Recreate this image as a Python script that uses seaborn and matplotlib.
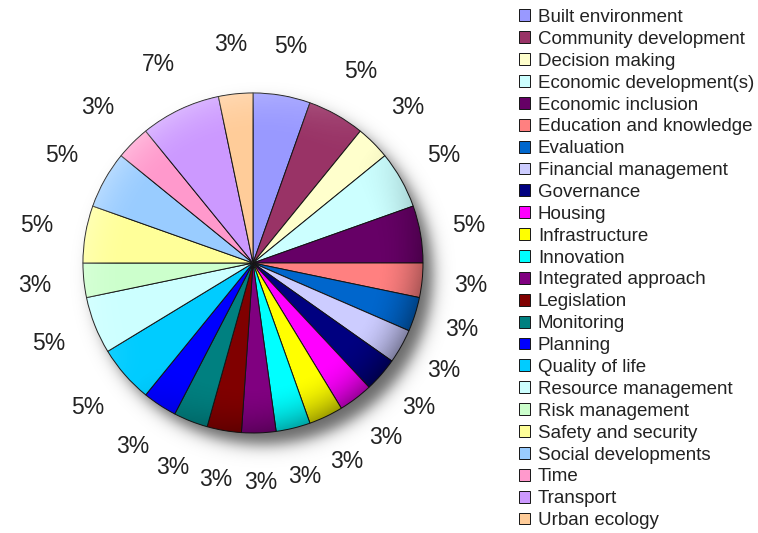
import numpy as np
import matplotlib
matplotlib.use("Agg")
import matplotlib.pyplot as plt
import seaborn as sns
from matplotlib.patches import Circle

# Themes and their share of mentions (percent), clockwise from 12 o'clock
categories = [
    "Built environment", "Community development", "Decision making",
    "Economic development(s)", "Economic inclusion", "Education and knowledge",
    "Evaluation", "Financial management", "Governance", "Housing",
    "Infrastructure", "Innovation", "Integrated approach", "Legislation",
    "Monitoring", "Planning", "Quality of life", "Resource management",
    "Risk management", "Safety and security", "Social developments", "Time",
    "Transport", "Urban ecology",
]
shares = [5, 5, 3, 5, 5, 3, 3, 3, 3, 3, 3, 3, 3, 3, 3, 3, 5, 5, 3, 5, 5, 3, 7, 3]
wedge_colors = [
    "#9999FF", "#993366", "#FFFFCC", "#CCFFFF", "#660066", "#FF8080",
    "#0066CC", "#CCCCFF", "#000080", "#FF00FF", "#FFFF00", "#00FFFF",
    "#800080", "#800000", "#008080", "#0000FF", "#00CCFF", "#CCFFFF",
    "#CCFFCC", "#FFFF99", "#99CCFF", "#FF99CC", "#CC99FF", "#FFCC99",
]

sns.set_theme(style="white")
plt.rcParams["font.family"] = ["Liberation Sans", "DejaVu Sans"]
palette = sns.color_palette(wedge_colors)

W, H = 758, 533
fig = plt.figure(figsize=(W / 100, H / 100), dpi=100)
fig.patch.set_facecolor("white")

# square axes holding the pie, radius 1 in data units
R_px, cx, cy, span = 170, 253, 263, 1.5
ax = fig.add_axes([(cx - span * R_px) / W, (H - cy - span * R_px) / H,
                   2 * span * R_px / W, 2 * span * R_px / H])

wedges, texts = ax.pie(
    shares,
    colors=palette,
    startangle=90,
    counterclock=False,
    labels=[f"{v}%" for v in shares],
    labeldistance=1.29,
    wedgeprops=dict(edgecolor="#151515", linewidth=0.7),
    textprops=dict(fontsize=16.5, color="#222222"),
)
for t in texts:
    t.set_ha("center")
    t.set_va("center")

# soft drop shadow below and to the right of the pie
n = 500
g = np.linspace(-span, span, n)
X, Y = np.meshgrid(g, g[::-1])
d_sh = np.hypot(X - 0.06, Y + 0.07)
a_sh = 0.6 * 0.5 * (1 - np.tanh((d_sh - 1.0) / 0.055))
shadow = np.zeros((n, n, 4))
shadow[..., 3] = a_sh
ax.imshow(shadow, extent=(-span, span, -span, span), zorder=0,
          interpolation="bilinear")

# rim shading: light toward upper left, dark toward lower right
r = np.hypot(X, Y) + 1e-9
rim = np.clip((r - 0.72) / 0.28, 0, 1) ** 2
dirv = (-X + Y) / (np.sqrt(2) * r)
shade = np.zeros((n, n, 4))
light = dirv > 0
shade[light, :3] = 1.0
shade[..., 3] = np.where(light, 0.3, 0.4) * rim * np.abs(dirv)
im = ax.imshow(shade, extent=(-span, span, -span, span), zorder=3,
               interpolation="bilinear")
im.set_clip_path(Circle((0, 0), 1.0, transform=ax.transData))

ax.set_xlim(-span, span)
ax.set_ylim(-span, span)
ax.axis("off")

fig.legend(
    wedges, categories,
    loc="upper left",
    bbox_to_anchor=(519 / W, (H - 9) / H),
    frameon=False,
    fontsize=13.5,
    handlelength=0.6,
    handleheight=0.6,
    handletextpad=0.4,
    labelspacing=0.26,
    borderpad=0,
    borderaxespad=0,
    labelcolor="#222222",
)

fig.savefig("out.png", dpi=100, facecolor="white")
